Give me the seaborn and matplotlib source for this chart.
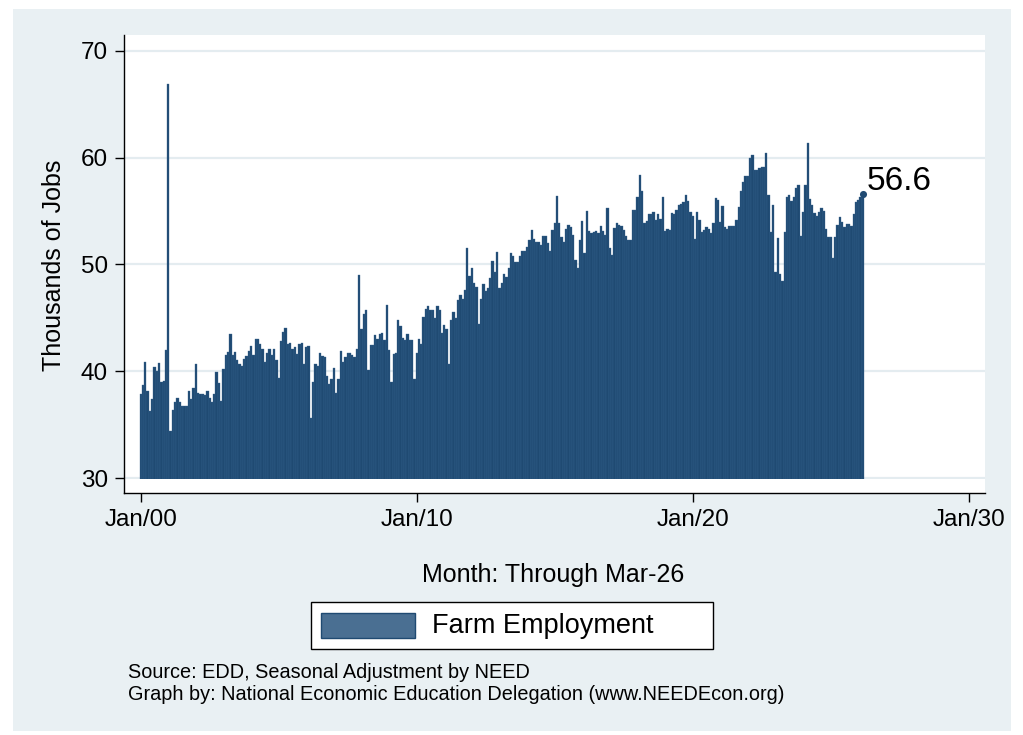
import numpy as np
import pandas as pd
import matplotlib
matplotlib.use("Agg")
import matplotlib.pyplot as plt
from matplotlib.patches import Rectangle
import seaborn as sns

# ---- data (thousands of jobs, monthly, Jan 2000 - Mar 2026) ----
jobs_2000_2003 = [37.9, 38.7, 40.9, 38.2, 36.3, 37.4, 40.4, 40.0, 40.8, 39.0, 39.1, 42.0,
                  66.9, 34.4, 36.4, 37.1, 37.5, 37.1, 36.8, 36.8, 36.8, 38.2, 37.4, 38.4,
                  40.7, 38.0, 37.9, 37.9, 37.8, 38.2, 37.5, 37.1, 37.9, 39.9, 38.9, 37.2,
                  40.2, 41.5, 41.8, 43.5, 41.5, 41.8, 41.1]
jobs_2003_2007 = [40.7, 40.5, 41.2, 41.4, 41.9, 42.4, 41.5, 43.0, 43.0, 42.6,
                  42.1, 40.9, 41.7, 42.1, 41.5, 42.1, 41.1, 39.4, 42.8, 43.7,
                  44.1, 42.6, 42.7, 42.1, 42.3, 41.6, 42.6, 42.7, 40.7, 42.3,
                  42.4, 35.6, 39.0, 40.7, 40.5, 41.7, 41.4, 41.3, 39.6, 38.8,
                  39.3, 40.3, 38.0, 39.3, 41.9, 40.9]
jobs_2007_2011 = [41.3, 41.7, 41.7, 41.5, 41.3, 42.1, 49.0, 44.0, 45.4, 45.7,
                  40.1, 42.5, 42.5, 43.4, 43.0, 43.5, 43.6, 42.9, 46.2, 42.0,
                  39.0, 41.6, 41.7, 44.8, 44.2, 43.1, 42.9, 43.5, 42.9, 42.9,
                  39.3, 41.7, 43.0, 42.6, 45.1, 45.8, 46.1, 45.7, 45.7, 45.0,
                  46.1, 45.7, 43.6, 44.3, 44.0, 40.7]
jobs_2011_2014 = [44.8, 45.6, 45.0, 46.7, 47.1, 46.8, 47.6, 51.5, 48.9, 49.7,
                  48.3, 47.9, 44.4, 46.8, 48.2, 47.5, 47.8, 48.7, 50.3, 49.3,
                  51.2, 47.8, 48.3, 49.1, 48.8, 49.7, 51.1, 50.8, 50.2, 50.2,
                  50.8, 51.3, 51.3, 51.6, 52.3, 53.2, 52.4, 52.1, 52.1, 51.8,
                  52.7, 52.7, 52.0, 51.3, 53.2]
jobs_2015_2018 = [53.9, 56.4, 53.9, 52.6, 52.1, 53.3, 53.7, 53.5, 52.8, 50.4,
                  49.7, 52.3, 54.1, 51.1, 55.0, 53.1, 52.9, 53.0, 53.1, 52.9,
                  53.6, 53.1, 52.8, 55.3, 51.5, 50.9, 53.4, 53.9, 53.7, 53.6,
                  53.2, 52.7, 52.3, 52.3, 55.1, 55.1, 56.3, 58.4, 56.9, 53.9,
                  54.1, 54.7, 54.7, 54.9, 54.2, 54.7]
jobs_2018_2022 = [54.3, 56.3, 53.1, 53.3, 53.2, 54.8, 54.7, 55.1, 55.6, 55.7,
                  55.8, 56.5, 55.9, 54.9, 54.5, 52.4, 54.9, 54.2, 53.0, 53.2,
                  53.5, 53.3, 52.9, 53.9, 56.2, 56.0, 54.0, 55.5, 53.5, 53.3,
                  53.6, 53.6, 53.6, 54.2, 55.4, 56.9, 57.7, 58.3, 58.3, 60.0,
                  60.2, 58.8, 58.8, 59.0, 59.1, 59.1]
jobs_2022_2026 = [60.4, 56.5, 53.0, 55.6, 49.3, 52.5, 49.1, 48.5, 53.0, 56.3,
                  56.5, 55.9, 56.3, 57.2, 57.4, 52.7, 54.9, 57.4, 61.4, 56.1,
                  55.6, 54.8, 54.5, 54.9, 55.3, 55.0, 53.3, 52.6, 52.6, 50.6,
                  52.6, 53.7, 54.4, 54.0, 53.5, 53.8, 53.8, 53.6, 54.7, 55.8,
                  56.0, 56.3, 56.6]

x_tick_months = [0, 120, 240, 360]
x_tick_labels = ["Jan/00", "Jan/10", "Jan/20", "Jan/30"]
y_ticks = [30, 40, 50, 60, 70]
series_name = "Farm Employment"
y_title = "Thousands of Jobs"
x_title = "Month: Through Mar-26"
source_lines = ["Source: EDD, Seasonal Adjustment by NEED",
                "Graph by: National Economic Education Delegation (www.NEEDEcon.org)"]

values = np.concatenate([jobs_2000_2003, jobs_2003_2007, jobs_2007_2011, jobs_2011_2014,
                         jobs_2015_2018, jobs_2018_2022, jobs_2022_2026])
df = pd.DataFrame({"month": np.arange(len(values)), "jobs": values})

# ---- style ----
sns.set_theme(style="white")
plt.rcParams["font.family"] = ["Liberation Sans", "DejaVu Sans"]

BAR = "#1f4a72"
BAR_EDGE = "#3a6690"
PANEL = "#e9f0f3"
GRID = "#e4ecf0"

W, H = 1023, 735
fig = plt.figure(figsize=(W / 100, H / 100), dpi=100, facecolor="white")
fig.patches.append(Rectangle((13 / W, 1 - 731 / H), (1010.7 - 13) / W, (731 - 9) / H,
                             transform=fig.transFigure, facecolor=PANEL,
                             edgecolor="none", zorder=-10))

ax = fig.add_axes([124 / W, 1 - 493 / H, 861 / W, 458 / H])
ax.set_facecolor("white")

sns.barplot(data=df, x="month", y="jobs", native_scale=True, color=BAR,
            saturation=1, width=1.0, errorbar=None, linewidth=0.25,
            edgecolor=BAR_EDGE, ax=ax)

ymin, ymax = 28.62, 71.47
ax.set_ylim(ymin, ymax)
ax.set_xlim(-7.26, 367.1)
# bars start at the 30 baseline
ax.axhspan(ymin, 29.93, color="white", lw=0, zorder=1.5)

ax.set_yticks(y_ticks)
ax.set_yticklabels([str(v) for v in y_ticks])
ax.set_xticks(x_tick_months)
ax.set_xticklabels(x_tick_labels)
ax.yaxis.grid(True, color=GRID, linewidth=1.6)
ax.xaxis.grid(False)
ax.set_axisbelow(True)
ax.set_xlabel("")
ax.set_ylabel("")

for side in ["top", "right"]:
    ax.spines[side].set_visible(False)
for side in ["left", "bottom"]:
    ax.spines[side].set_color("black")
    ax.spines[side].set_linewidth(1.0)

ax.tick_params(axis="both", which="major", bottom=True, left=True, direction="out",
               length=6.5, width=1.0, color="black", labelsize=17.5,
               labelcolor="black", pad=5)

# last value marker and label
last_m = len(values) - 1
ax.scatter([last_m], [values[-1]], s=26, color=BAR, zorder=4, clip_on=False, linewidths=0)
ax.annotate(f"{values[-1]:.1f}", xy=(last_m, values[-1]), xytext=(3, 9),
            textcoords="offset points", fontsize=24, ha="left", va="center",
            color="black", zorder=5)

# axis titles
fig.text(54 / W, 1 - 265 / H, y_title, rotation=90, ha="center", va="center",
         fontsize=18, color="black")
fig.text(553 / W, 1 - 582 / H, x_title, ha="center", va="baseline",
         fontsize=18, color="black")

# legend box
fig.patches.append(Rectangle((310.7 / W, 1 - 649 / H), (713 - 310.7) / W, (649 - 601.7) / H,
                             transform=fig.transFigure, facecolor="white",
                             edgecolor="black", linewidth=1.0, zorder=2))
fig.patches.append(Rectangle((321 / W, 1 - 637.7 / H), 94 / W, 24.7 / H,
                             transform=fig.transFigure, facecolor="#4a6f92",
                             edgecolor=BAR, linewidth=1.0, zorder=3))
fig.text(431.7 / W, 1 - 626 / H, series_name, ha="left", va="center",
         fontsize=19.5, color="black", zorder=4)

# source notes
fig.text(128 / W, 1 - 678 / H, source_lines[0], ha="left", va="baseline",
         fontsize=14.3, color="black")
fig.text(128 / W, 1 - 700 / H, source_lines[1], ha="left", va="baseline",
         fontsize=14.3, color="black")

fig.savefig("out.png", dpi=100, facecolor=fig.get_facecolor())
